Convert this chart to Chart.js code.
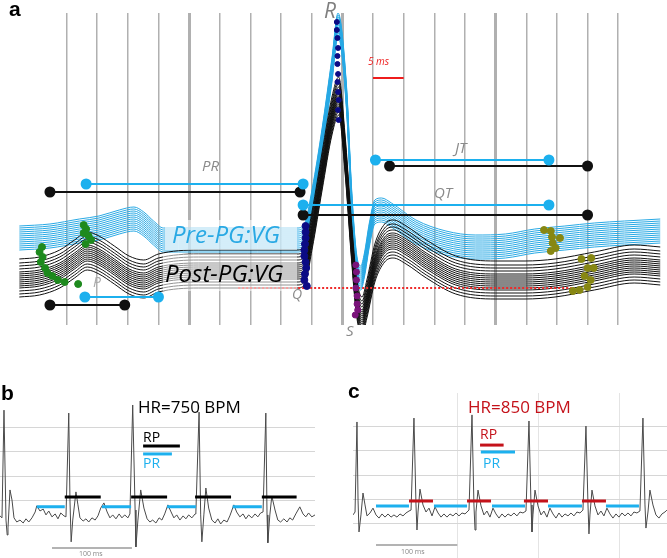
<!DOCTYPE html>
<html>
<head>
<meta charset="utf-8">
<script src="https://cdn.jsdelivr.net/npm/chart.js@4.4.1/dist/chart.umd.min.js"></script>
<style>
  html, body { margin: 0; padding: 0; background: #fff; }
  body { position: relative; width: 667px; height: 558px; overflow: hidden; }
  .panel { position: absolute; }
</style>
</head>
<body>
<div class="panel" style="left:0;top:0;width:667px;height:340px"><canvas id="chart-a"></canvas></div>
<div class="panel" style="left:0;top:380px;width:330px;height:178px"><canvas id="chart-b"></canvas></div>
<div class="panel" style="left:340px;top:380px;width:327px;height:178px"><canvas id="chart-c"></canvas></div>
<script>
// ---- panel a: averaged beats, time in ms, amplitude in a.u. (0 = isoelectric line)
const preTime = [-2.7, 2.3, 7.1, 10.3, 13.6, 16.0, 17.6, 19.2, 20.8, 23.3,
  29.7, 36.2, 42.6, 43.8, 45.1, 46.7, 48.3, 49.3, 50.7, 51.5,
  52.3, 53.0, 53.6, 54.4, 55.3, 56.4, 58.0, 62.0, 66.9, 71.7,
  76.6, 81.4, 86.3, 91.1, 96.0, 101.9];
const preLevel = [50, 52, 57, 60, 66, 69, 64, 55, 48, 48,
  48, 48, 48, 52, 88, 148, 218, 263, 188, 88,
  23, 10, 23, 53, 76, 78, 73, 56, 45, 41,
  42, 47, 50, 53, 55, 57];
const preOffsets = [-12, -10, -8, -6, -4, -2, 0, 2, 4, 6, 8, 10, 12];

const postTime = [-2.7, 0.6, 3.9, 6.3, 8.4, 10.3, 12.8, 15.2, 17.6, 20.0,
  26.5, 34.6, 42.6, 43.8, 45.1, 46.7, 48.3, 49.4, 50.4, 51.5,
  52.3, 53.2, 54.0, 55.3, 56.9, 58.3, 60.4, 63.7, 68.5, 75.0,
  79.8, 84.7, 91.1, 97.6, 101.9];
const postLevel = [11, 13, 20, 30, 38, 34, 24, 14, 10, 16,
  20, 20, 20, 23, 60, 118, 173, 193, 138, 48,
  -7, -27, -10, 26, 46, 50, 44, 30, 14, 9,
  9, 11, 18, 25, 23];
const postOffsets = [-20, -17, -14, -11, -9, -7, -5, -3, -1, 1, 3, 5, 8, 11, 14, 18];

// fiducial points
const pOnsetTime = [1.0, 0.6, 1.1, 0.8, 1.5, 1.9, 2.7, 3.6, 4.7, 6.9, 7.8, 8.2, 7.8, 8.6, 9.0, 8.1];
const pOnsetLevel = [41, 36, 31, 26, 20, 15, 12, 8, 6, 4, 63, 59, 55, 52, 48, 44];
const qTime = [44.0, 44.0, 44.0, 43.9, 43.8, 43.8, 44.0, 44.1, 43.9, 43.8, 44.2];
const qLevel = [62, 56, 50, 44, 38, 32, 26, 20, 14, 8, 2];
const rTime = [49.1, 49.1, 49.2, 49.3, 49.2, 49.2, 49.3, 49.2, 49.3, 49.4, 49.3, 49.4];
const rLevel = [266, 258, 250, 240, 232, 224, 214, 206, 196, 188, 178, 168];
const sTime = [52.2, 52.3, 52.3, 52.2, 52.4, 52.4, 52.5, 52.1];
const sLevel = [23, 16, 8, 0, -8, -16, -22, -27];
const tEndPreTime = [82.9, 84.0, 84.2, 84.3, 84.8, 84.0, 85.5];
const tEndPreLevel = [58, 57, 51, 45, 40, 37, 50];
const tEndPostTime = [89.0, 90.6, 90.0, 91.0, 89.5, 90.5, 88.7, 87.6, 90.0];
const tEndPostLevel = [29, 30, 20, 20, 12, 8, -2, -3, 1];

// intervals: PR, JT, QT, P
const preIntervalStart = [8.2, 55.4, 43.6, 8.0];
const preIntervalEnd = [43.6, 83.7, 83.7, 20.0];
const preIntervalLevel = [104, 128, 83, -9];
const postIntervalStart = [2.3, 57.7, 43.6, 2.3];
const postIntervalEnd = [43.1, 90.0, 90.0, 14.5];
const postIntervalLevel = [96, 122, 73, -17];
const baselineSpan = [33, 87.4];
const scaleBarSpan = [55, 60];

// ---- panel b: 750 BPM strip, time in ms, amplitude in grid units
const bTime = [-65, -62.5, -60, -57.5, -56, -55, -52.5, -50, -47.5, -44,
  -40, -36, -32.5, -29, -25, -21, -19, -15, -11, -7.5,
  -4, 0, 4, 7.5, 11, 15, 17.5, 21, 22.5, 24,
  26, 30, 32.5, 35, 39, 42.5, 46, 50, 54, 57.5,
  61, 65, 69, 72.5, 76, 80, 84, 87.5, 91, 95,
  97.5, 101, 104, 105, 107.5, 111, 115, 119, 122.5, 126,
  130, 134, 137.5, 141, 145, 149, 152.5, 156, 160, 164,
  167.5, 171, 175, 179, 180, 184, 186, 187.5, 190, 192.5,
  196, 200, 204, 207.5, 211, 215, 219, 222.5, 227.5, 231,
  235, 239, 242.5, 246, 250, 254, 257.5, 261, 264, 267.5,
  269, 270, 272.5, 275, 279, 282.5, 286, 290, 294, 297.5,
  301, 305, 310, 314, 317.5, 321, 325, 329];
const bVolt = [1.39, 1.31, 5.71, 1.22, 0.61, 0.90, 2.45, 2.04, 1.31, 1.14,
  1.22, 1.10, 1.27, 1.14, 1.31, 1.55, 1.80, 1.59, 1.67, 1.43,
  1.59, 1.35, 1.47, 1.27, 1.51, 1.39, 1.35, 5.59, 2.04, 0.33,
  1.22, 2.37, 1.84, 1.31, 1.18, 1.27, 1.14, 1.31, 1.22, 1.39,
  1.71, 1.92, 1.55, 1.31, 1.43, 1.27, 1.47, 1.31, 1.43, 1.31,
  1.47, 5.92, 1.63, 0.12, 1.22, 2.45, 1.71, 1.27, 1.14, 1.22,
  1.10, 1.31, 1.22, 1.47, 1.84, 1.55, 1.31, 1.43, 1.22, 1.39,
  1.27, 1.43, 1.31, 1.47, 1.55, 5.63, 1.43, 0.33, 1.43, 2.53,
  1.71, 1.22, 1.10, 1.27, 1.06, 1.22, 1.14, 1.39, 1.84, 1.55,
  1.35, 1.47, 1.27, 1.43, 1.31, 1.47, 1.35, 1.51, 1.55, 5.59,
  1.43, 0.29, 1.43, 2.20, 1.63, 1.22, 1.14, 1.27, 1.14, 1.31,
  1.22, 1.47, 1.76, 1.47, 1.35, 1.51, 1.35, 1.43];
const bPrStart = [-19, 62.5, 144, 226];
const bPrEnd = [16, 99, 180, 262.5];
const bPrLevel = 1.76;
const bRpStart = [16, 99, 179, 262.5];
const bRpEnd = [61, 144, 224, 306];
const bRpLevel = 2.16;
const bKeyRp = [114, 160, 4.24];
const bKeyPr = [114, 150, 3.92];

// ---- panel c: 850 BPM strip
const cTime = [-28.3, -25.8, -23.4, -22.1, -20.9, -18.5, -16, -13.5, -11.1, -7.4,
  -3.7, 0, 3.7, 7.4, 11.1, 14.8, 18.5, 22.1, 25.8, 29.5,
  33.2, 36.9, 40.6, 43.1, 46.7, 49.2, 50.4, 51.7, 54.1, 57.8,
  61.5, 65.2, 68.9, 72.6, 76.3, 80, 83.6, 87.3, 91, 94.7,
  98.4, 102.1, 105.8, 109.5, 114.4, 118.1, 120.5, 121.8, 123, 125.5,
  129.2, 132.8, 136.5, 140.2, 143.9, 147.6, 151.3, 155, 158.7, 162.4,
  166.1, 169.7, 173.4, 177.1, 180.8, 184.5, 188.2, 190.7, 191.9, 193.1,
  195.6, 199.3, 203, 206.6, 210.3, 214, 217.7, 221.4, 225.1, 228.8,
  232.5, 236.2, 239.9, 243.5, 247.2, 250.9, 254.6, 258.3, 260.8, 262,
  263.2, 265.7, 269.4, 273.1, 276.8, 280.4, 284.1, 287.8, 291.5, 295.2,
  298.9, 302.6, 306.3, 310, 313.7, 317.3, 321, 324.7, 328.4, 330.9,
  332.1, 334.6, 337, 340.7, 344.4, 348.1, 351.8, 355.5, 357.9];
const cVolt = [1.36, 1.48, 5.18, 1.97, 0.66, 1.36, 2.26, 1.77, 1.32, 1.44,
  1.64, 1.36, 1.23, 1.40, 1.27, 1.40, 1.27, 1.36, 1.27, 1.40,
  1.32, 1.44, 1.52, 1.56, 5.34, 1.77, 0.74, 1.48, 2.42, 1.77,
  1.48, 1.64, 1.32, 1.69, 1.44, 1.27, 1.40, 1.27, 1.40, 1.32,
  1.44, 1.32, 1.44, 1.40, 1.56, 5.47, 1.77, 0.74, 1.48, 2.38,
  1.73, 1.36, 1.52, 1.27, 1.64, 1.40, 1.23, 1.40, 1.27, 1.40,
  1.32, 1.44, 1.32, 1.48, 1.44, 1.52, 5.22, 1.77, 0.66, 1.36,
  2.38, 1.73, 1.36, 1.52, 1.27, 1.64, 1.40, 1.23, 1.44, 1.27,
  1.40, 1.32, 1.44, 1.32, 1.48, 1.44, 1.56, 5.01, 1.77, 0.58,
  1.36, 2.38, 1.73, 1.36, 1.52, 1.32, 1.64, 1.40, 1.23, 1.40,
  1.27, 1.44, 1.32, 1.44, 1.32, 1.48, 1.44, 1.52, 5.34, 1.77,
  0.82, 1.48, 2.38, 1.77, 1.36, 1.23, 1.40, 1.48, 1.56];
const cPrStart = [0, 71.3, 142.7, 211.6, 282.9];
const cPrEnd = [40.6, 112, 183.3, 253.4, 323.5];
const cPrLevel = 1.73;
const cRpStart = [40.6, 112, 182, 253.4];
const cRpEnd = [70.1, 141.5, 211.6, 282.9];
const cRpLevel = 1.93;
const cKeyRp = [128, 157, 4.23];
const cKeyPr = [129, 171, 3.95];

const BLUE = '#29a9e4';
const SKY = '#1cb0ee';
const RED = '#c4121a';
const NONE = 'rgba(0,0,0,0)';
const ITALIC = '"Open Sans", "DejaVu Sans", sans-serif';

Chart.defaults.animation = false;
Chart.defaults.events = [];
Chart.defaults.plugins.legend.display = false;
Chart.defaults.plugins.tooltip.enabled = false;

const onStep = (step) => (v) => Math.abs(v % step) < 1e-6;

function notes(under, over, boxes = []) {
  const draw = (ctx, list) => list.forEach((n) => {
    ctx.save();
    ctx.font = n.font;
    ctx.fillStyle = n.color;
    ctx.textBaseline = 'alphabetic';
    ctx.fillText(n.text, n.x, n.y);
    ctx.restore();
  });
  return {
    id: 'notes',
    beforeDatasetsDraw(chart) { draw(chart.ctx, under); },
    afterDatasetsDraw(chart) {
      const { ctx } = chart;
      boxes.forEach((b) => {
        ctx.save();
        ctx.fillStyle = b.color;
        ctx.fillRect(b.x, b.y, b.w, b.h);
        ctx.restore();
      });
      draw(ctx, over);
    },
  };
}

function points(time, level, color, radius) {
  return {
    type: 'scatter',
    data: time.map((t, i) => ({ x: t, y: level[i] })),
    backgroundColor: color,
    borderColor: color,
    pointRadius: radius,
    showLine: false,
  };
}

function segment(x0, x1, y, color, width, extra = {}) {
  return {
    data: [{ x: x0, y }, { x: x1, y }],
    borderColor: color,
    backgroundColor: color,
    borderWidth: width,
    pointRadius: 0,
    ...extra,
  };
}

function bars(start, end, level, color) {
  return {
    data: start.flatMap((s, i) => [{ x: s, y: level }, { x: end[i], y: level }, { x: end[i], y: null }]),
    borderColor: color,
    borderWidth: 3,
    pointRadius: 0,
    spanGaps: false,
  };
}

function traces(time, level, offsets, color) {
  return offsets.map((off) => ({
    data: time.map((t, i) => ({ x: t, y: level[i] + off })),
    borderColor: color,
    borderWidth: 1,
    pointRadius: 0,
    cubicInterpolationMode: 'monotone',
  }));
}

function scales(x, y) {
  return {
    x: {
      type: 'linear',
      min: x.min,
      max: x.max,
      afterFit(axis) { axis.height = 0; },
      border: { display: false },
      ticks: { display: false, stepSize: x.step },
      grid: {
        drawTicks: false,
        color: (ctx) => (ctx.tick && onStep(x.step)(ctx.tick.value) ? x.color : NONE),
        lineWidth: (ctx) => (ctx.tick && x.thick && onStep(x.thick)(ctx.tick.value) ? 3 : x.width),
      },
    },
    y: {
      type: 'linear',
      min: y.min,
      max: y.max,
      afterFit(axis) { axis.width = 0; },
      border: { display: false },
      ticks: { display: false, stepSize: y.step || 1 },
      grid: {
        drawTicks: false,
        display: !!y.color,
        color: (ctx) => (ctx.tick && onStep(y.step || 1)(ctx.tick.value) ? y.color : NONE),
        lineWidth: 1,
      },
    },
  };
}

// ---------- panel a
const intervalSets = [];
preIntervalStart.forEach((s, i) => {
  intervalSets.push(segment(s, preIntervalEnd[i], preIntervalLevel[i], SKY, 2, { pointRadius: [4.5, 4.5] }));
  intervalSets.push(segment(postIntervalStart[i], postIntervalEnd[i], postIntervalLevel[i], '#111', 2, { pointRadius: [4.5, 4.5] }));
});

new Chart(document.getElementById('chart-a'), {
  type: 'line',
  data: {
    datasets: [
      points(rTime, rLevel, '#0b0b85', 2.5),
      points(qTime, qLevel, '#0b0b85', 3.5),
      points(sTime, sLevel, '#7a137a', 3),
      points(pOnsetTime, pOnsetLevel, '#1e8a1e', 3.5),
      points(tEndPreTime, tEndPreLevel, '#878712', 3.5),
      points(tEndPostTime, tEndPostLevel, '#878712', 3.5),
      ...intervalSets,
      segment(scaleBarSpan[0], scaleBarSpan[1], 210, '#ee1c1c', 2),
      segment(baselineSpan[0], baselineSpan[1], 0, '#ee2a2a', 2, { borderDash: [2, 2] }),
      ...traces(postTime, postLevel, postOffsets, '#111111'),
      ...traces(preTime, preLevel, preOffsets, BLUE),
    ],
  },
  options: {
    responsive: true,
    maintainAspectRatio: false,
    layout: { padding: { left: 19, right: 0, top: 13, bottom: 15 } },
    scales: scales(
      { min: -2.75, max: 101.9, step: 5, thick: 25, color: '#b0b0b0', width: 1.5 },
      { min: -37, max: 275 },
    ),
  },
  plugins: [notes(
    [{ text: 'P', x: 93, y: 287, font: `italic 14px ${ITALIC}`, color: '#aaaaaa' }],
    [
      { text: 'a', x: 9, y: 16, font: 'bold 21px Arial, sans-serif', color: '#000' },
      { text: 'R', x: 324, y: 18, font: `italic 21px ${ITALIC}`, color: '#7f7f7f' },
      { text: '5 ms', x: 368, y: 65, font: `italic 10px ${ITALIC}`, color: '#ee1c1c' },
      { text: 'PR', x: 202, y: 171, font: `italic 15px ${ITALIC}`, color: '#8a8a8a' },
      { text: 'JT', x: 455, y: 153, font: `italic 15px ${ITALIC}`, color: '#8a8a8a' },
      { text: 'QT', x: 434, y: 198, font: `italic 15px ${ITALIC}`, color: '#8a8a8a' },
      { text: 'Q', x: 292, y: 299, font: `italic 14px ${ITALIC}`, color: '#8a8a8a' },
      { text: 'S', x: 346, y: 336, font: `italic 15px ${ITALIC}`, color: '#8a8a8a' },
      { text: 'Pre-PG:VG', x: 172, y: 243, font: `italic 24px ${ITALIC}`, color: BLUE },
      { text: 'Post-PG:VG', x: 165, y: 282, font: `italic 24px ${ITALIC}`, color: '#000' },
    ],
    [
      { x: 165, y: 220, w: 132, h: 30, color: 'rgba(255,255,255,0.6)' },
      { x: 163, y: 254, w: 134, h: 37, color: 'rgba(255,255,255,0.55)' },
    ],
  )],
});

// ---------- panels b and c
function strip(id, cfg) {
  return new Chart(document.getElementById(id), {
    type: 'line',
    data: {
      datasets: [
        segment(cfg.keyRp[0], cfg.keyRp[1], cfg.keyRp[2], cfg.rpColor, 3),
        segment(cfg.keyPr[0], cfg.keyPr[1], cfg.keyPr[2], SKY, 3),
        bars(cfg.rpStart, cfg.rpEnd, cfg.rpLevel, cfg.rpColor),
        bars(cfg.prStart, cfg.prEnd, cfg.prLevel, SKY),
        {
          data: cfg.time.map((t, i) => ({ x: t, y: cfg.volt[i] })),
          borderColor: '#4a4a4a',
          borderWidth: 1,
          pointRadius: 0,
        },
        segment(0, 100, cfg.barLevel, '#9a9a9a', 1.5),
      ],
    },
    options: {
      responsive: true,
      maintainAspectRatio: false,
      layout: { padding: cfg.padding },
      scales: scales(
        { min: cfg.xMin, max: cfg.xMax, step: 100, color: '#e4e4e4', width: 1 },
        { min: cfg.yMin, max: cfg.yMax, step: 1, color: '#d6d6d6' },
      ),
    },
    plugins: [notes([], cfg.notes)],
  });
}

strip('chart-b', {
  time: bTime, volt: bVolt,
  prStart: bPrStart, prEnd: bPrEnd, prLevel: bPrLevel,
  rpStart: bRpStart, rpEnd: bRpEnd, rpLevel: bRpLevel,
  keyRp: bKeyRp, keyPr: bKeyPr, rpColor: '#000',
  barLevel: 0.08,
  xMin: -65, xMax: 329, yMin: -0.33, yMax: 6.41,
  padding: { left: 0, right: 15, top: 13, bottom: 0 },
  notes: [
    { text: 'b', x: 1, y: 20, font: 'bold 21px Arial, sans-serif', color: '#000' },
    { text: 'HR=750 BPM', x: 138, y: 33, font: '17px "Open Sans", sans-serif', color: '#000' },
    { text: 'RP', x: 143, y: 62, font: '14px "Open Sans", sans-serif', color: '#000' },
    { text: 'PR', x: 143, y: 88, font: '14px "Open Sans", sans-serif', color: SKY },
    { text: '100 ms', x: 79, y: 176, font: '7px "Open Sans", sans-serif', color: '#888' },
  ],
});

strip('chart-c', {
  time: cTime, volt: cVolt,
  prStart: cPrStart, prEnd: cPrEnd, prLevel: cPrLevel,
  rpStart: cRpStart, rpEnd: cRpEnd, rpLevel: cRpLevel,
  keyRp: cKeyRp, keyPr: cKeyPr, rpColor: RED,
  barLevel: 0.12,
  xMin: -28.3, xMax: 358, yMin: -0.41, yMax: 6.37,
  padding: { left: 13, right: 0, top: 13, bottom: 0 },
  notes: [
    { text: 'c', x: 8, y: 18, font: 'bold 21px Arial, sans-serif', color: '#000' },
    { text: 'HR=850 BPM', x: 128, y: 33, font: '17px "Open Sans", sans-serif', color: RED },
    { text: 'RP', x: 140, y: 59, font: '14px "Open Sans", sans-serif', color: RED },
    { text: 'PR', x: 143, y: 88, font: '14px "Open Sans", sans-serif', color: SKY },
    { text: '100 ms', x: 61, y: 174, font: '7px "Open Sans", sans-serif', color: '#888' },
  ],
});
</script>
</body>
</html>
